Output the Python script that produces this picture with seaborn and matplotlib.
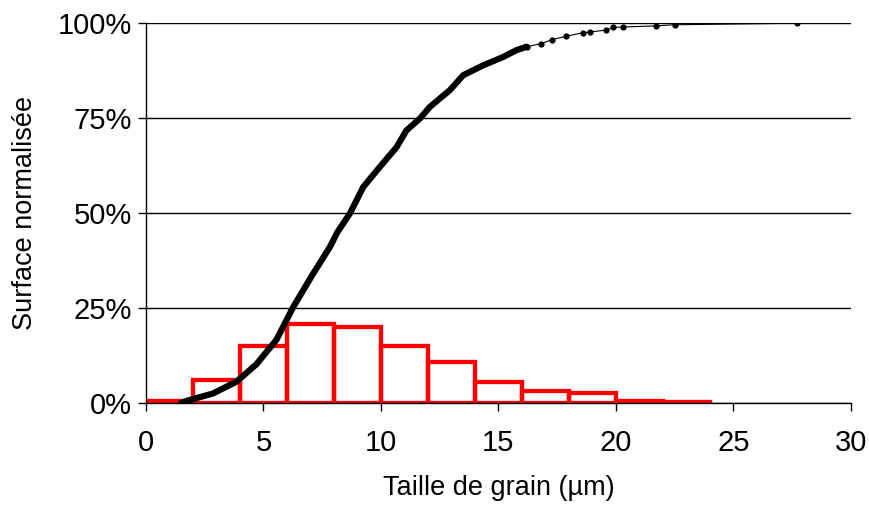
import numpy as np
import pandas as pd
import matplotlib
matplotlib.use("Agg")
import matplotlib.pyplot as plt
import seaborn as sns
from matplotlib.ticker import FuncFormatter


# DATA

bin_edges = [0, 2, 4, 6, 8, 10, 12, 14, 16, 18, 20, 22, 24]
bin_heights = [0.5, 6.0, 15.0, 20.8, 19.9, 15.0, 10.9, 5.6, 3.2, 2.5, 0.6, 0.35]

curve_x = [1.5, 1.75, 2.85, 3.85, 4.7, 5.55, 6.27, 7.12, 7.83, 8.15, 8.68, 9.25,
           9.96, 10.67, 11.09, 11.66, 12.09, 12.94, 13.5, 14.35, 15.2, 15.77, 16.2]
curve_y = [0, 0.6, 2.5, 5.6, 10.2, 16.6, 25.3, 34.1, 41.1, 45.0, 49.9, 56.9,
           62.2, 67.4, 71.8, 74.9, 78.0, 82.4, 86.3, 88.9, 91.1, 92.9, 93.8]

tail_x = [16.2, 16.8, 17.3, 17.9, 18.6, 18.9, 19.6, 19.9, 20.3, 21.7, 22.5, 27.7]
tail_y = [93.8, 94.6, 95.7, 96.6, 97.5, 97.7, 98.2, 98.9, 99.0, 99.3, 99.6, 100.0]

x_ticks = [0, 5, 10, 15, 20, 25, 30]
y_ticks = [0, 25, 50, 75, 100]


# PLOT

sns.set_style("white")
plt.rcParams['font.family'] = ['Liberation Sans', 'DejaVu Sans']
plt.rcParams['text.color'] = 'black'
plt.rcParams['axes.labelcolor'] = 'black'
plt.rcParams['xtick.color'] = 'black'
plt.rcParams['ytick.color'] = 'black'

fig = plt.figure(figsize=(8.69, 5.05), dpi=100)
ax = fig.add_axes([0.168, 0.202, 0.811, 0.752])

centers = [(a + b) / 2 for a, b in zip(bin_edges[:-1], bin_edges[1:])]
hist = pd.DataFrame({'size': centers, 'share': bin_heights})
sns.histplot(data=hist, x='size', weights='share', bins=bin_edges,
             fill=False, color='#ff0000', linewidth=3.1, element='bars', ax=ax)

sns.lineplot(x=tail_x, y=tail_y, color='black', linewidth=0.8, sort=False,
             marker='o', markersize=4.5, markeredgewidth=0, ax=ax)
sns.lineplot(x=curve_x, y=curve_y, color='black', linewidth=4.5, sort=False,
             solid_capstyle='round', solid_joinstyle='round', ax=ax)

ax.set_xlim(0, 30)
ax.set_ylim(0, 100)
ax.set_xticks(x_ticks)
ax.set_yticks(y_ticks)
ax.yaxis.set_major_formatter(FuncFormatter(lambda v, p: f"{v:.0f}%"))
ax.yaxis.grid(True, color='black', linewidth=1)
ax.set_axisbelow(True)

for side in ['top', 'right']:
    ax.spines[side].set_visible(False)
for side in ['left', 'bottom']:
    ax.spines[side].set_color('black')
    ax.spines[side].set_linewidth(1)

ax.tick_params(axis='both', direction='out', length=6, width=1, color='black',
               labelsize=21, left=True, bottom=True)
ax.tick_params(axis='y', pad=4)
ax.tick_params(axis='x', pad=13)
ax.set_xlabel("Taille de grain (µm)", fontsize=19.5, labelpad=13)
ax.set_ylabel("Surface normalisée", fontsize=19.5, labelpad=14)

fig.savefig("out.png", dpi=100)
